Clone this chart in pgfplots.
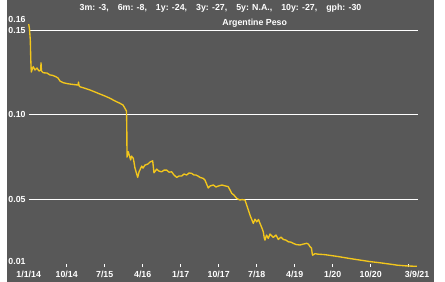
\documentclass[border=0pt]{standalone}
\usepackage{pgfplots}
\pgfplotsset{compat=1.18}
\usepackage{fontspec}
\setmainfont{Liberation Sans}
\definecolor{bg}{RGB}{88,88,88}
\definecolor{ln}{RGB}{242,198,28}
\begin{document}
\begin{tikzpicture}
\useasboundingbox (-28.7bp,-15bp) rectangle (416.3bp,267bp);
\fill[bg] (-21.7bp,-15bp) rectangle (405.3bp,267bp);
\begin{axis}[
  at={(0,0)}, anchor=south west,
  scale only axis, width=389.3bp, height=253.6bp,
  xmin=0, xmax=10.245, ymin=0.01, ymax=0.16,
  axis line style={draw=none},
  font=\fontsize{8.8bp}{10bp}\selectfont\bfseries,
  /pgf/number format/assume math mode=true,
  tick align=inside,
  xtick pos=bottom, ytick pos=left,
  xtick={1,...,10},
  xticklabels={10/14,7/15,4/16,1/17,10/17,7/18,4/19,1/20,10/20,{}},
  extra x ticks={0,10.22},
  extra x tick labels={1/1/14,3/9/21},
  extra x tick style={major tick length=0pt, xmajorgrids=false},
  x tick style={white, line width=0.8bp},
  major tick length=3bp,
  xticklabel style={white, inner sep=0pt, anchor=north, yshift=-3.5bp},
  ytick={0.05,0.10,0.15},
  yticklabels={0.05,0.10,0.15},
  extra y ticks={0.0130,0.1565},
  extra y tick labels={0.01,0.16},
  extra y tick style={ymajorgrids=false},
  y tick style={draw=none},
  yticklabel style={white, inner sep=0pt, anchor=west, xshift=-20.4bp},
  ymajorgrids,
  major grid style={white, line width=0.9bp},
  clip=false,
]
\addplot[ln, line width=1.35bp, line join=round] coordinates {
(0,0.1537)(0.021,0.1508)(0.042,0.1443)(0.055,0.1324)(0.068,0.1253)(0.095,0.1271)
(0.121,0.1285)(0.166,0.1265)(0.218,0.1277)(0.271,0.1259)(0.316,0.1265)(0.324,0.1308)
(0.337,0.1259)(0.384,0.1249)(0.482,0.1247)(0.561,0.1236)(0.639,0.1233)(0.718,0.1225)
(0.771,0.1218)(0.824,0.1200)(0.911,0.1190)(1.008,0.1185)(1.087,0.1182)(1.192,0.1179)
(1.297,0.1176)(1.311,0.1194)(1.324,0.1173)(1.350,0.1166)(1.482,0.1157)(1.613,0.1147)
(1.745,0.1135)(1.876,0.1123)(2.008,0.1111)(2.139,0.1098)(2.271,0.1082)(2.403,0.1068)
(2.482,0.1058)(2.534,0.1038)(2.574,0.1022)(2.582,0.0910)(2.587,0.0750)(2.621,0.0782)
(2.653,0.0756)(2.684,0.0733)(2.705,0.0756)(2.753,0.0743)(2.797,0.0685)(2.868,0.0630)
(2.903,0.0662)(2.974,0.0697)(3.008,0.0685)(3.061,0.0703)(3.139,0.0709)(3.192,0.0721)
(3.263,0.0728)(3.297,0.0657)(3.368,0.0679)(3.429,0.0667)(3.500,0.0663)(3.561,0.0673)
(3.632,0.0673)(3.692,0.0661)(3.763,0.0663)(3.824,0.0644)(3.895,0.0630)(3.955,0.0638)
(4.026,0.0638)(4.087,0.0650)(4.158,0.0644)(4.218,0.0656)(4.289,0.0654)(4.350,0.0644)
(4.403,0.0644)(4.455,0.0638)(4.508,0.0630)(4.595,0.0624)(4.639,0.0614)(4.726,0.0567)
(4.771,0.0579)(4.858,0.0585)(4.929,0.0573)(4.989,0.0579)(5.087,0.0585)(5.166,0.0580)
(5.253,0.0575)(5.342,0.0536)(5.403,0.0525)(5.474,0.0506)(5.561,0.0496)(5.613,0.0499)
(5.692,0.0496)(5.753,0.0456)(5.824,0.0407)(5.911,0.0358)(5.955,0.0383)(6.000,0.0367)
(6.047,0.0381)(6.087,0.0358)(6.139,0.0330)(6.174,0.0308)(6.200,0.0271)(6.218,0.0259)
(6.258,0.0289)(6.305,0.0269)(6.350,0.0295)(6.437,0.0275)(6.508,0.0289)(6.568,0.0263)
(6.639,0.0277)(6.700,0.0263)(6.771,0.0259)(6.832,0.0249)(6.903,0.0247)(6.963,0.0240)
(7.034,0.0233)(7.139,0.0230)(7.218,0.0235)(7.316,0.0240)(7.363,0.0235)(7.403,0.0220)
(7.442,0.0212)(7.463,0.0176)(7.474,0.0170)(7.534,0.0179)(7.613,0.0176)(7.797,0.0173)
(8.016,0.0166)(8.192,0.0160)(8.455,0.0150)(8.718,0.0141)(8.982,0.0132)(9.245,0.0125)
(9.508,0.0117)(9.692,0.0111)(9.903,0.0107)(10.087,0.0105)(10.218,0.0104)
};
\end{axis}
\node[white, font=\fontsize{8.8bp}{10bp}\selectfont\bfseries, inner sep=0pt] at (191.8bp,258.7bp)
  {3m: -3,\hspace{9bp}6m: -8,\hspace{9bp}1y: -24,\hspace{9bp}3y: -27,\hspace{9bp}5y: N.A.,\hspace{9bp}10y: -27,\hspace{9bp}gph: -30};
\node[white, font=\fontsize{8.8bp}{10bp}\selectfont\bfseries, inner sep=0pt] at (226bp,243.7bp) {Argentine Peso};
\end{tikzpicture}
\end{document}
